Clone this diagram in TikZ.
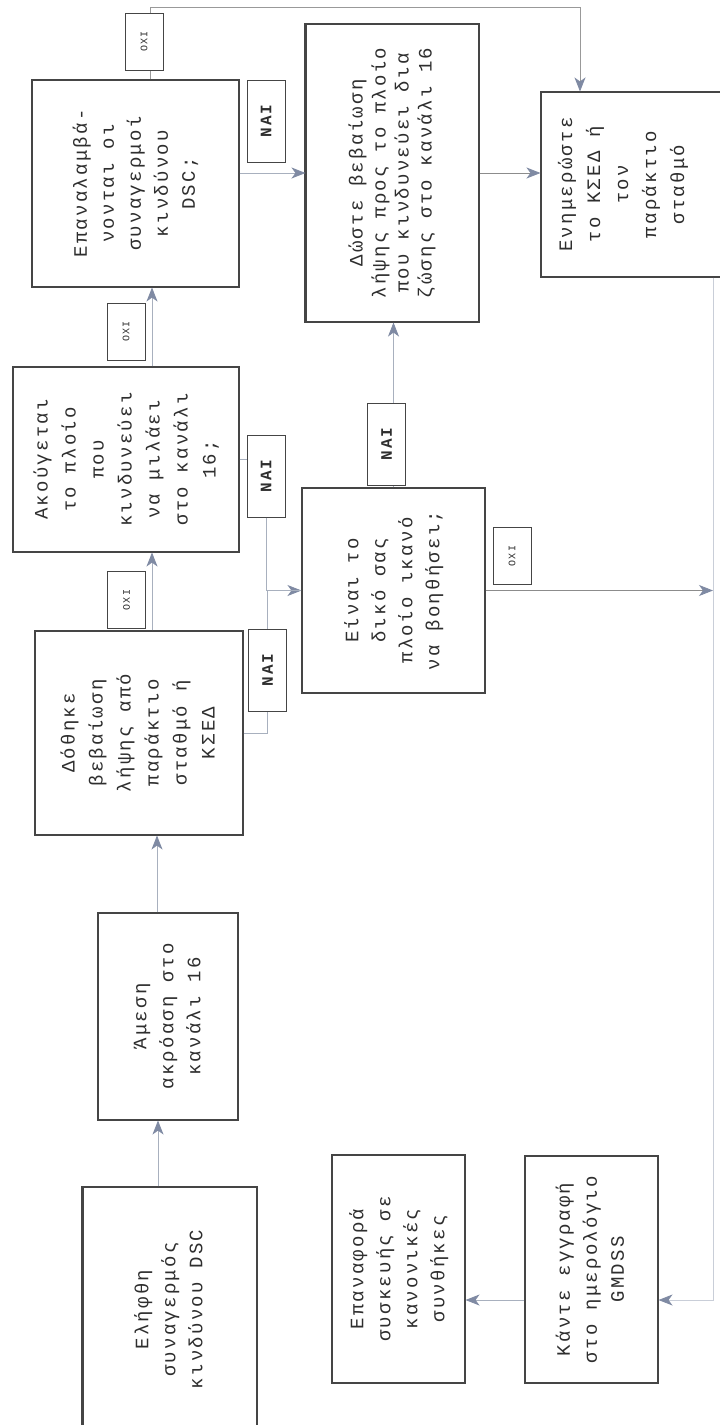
\documentclass[tikz,border=0pt]{standalone}
\usepackage{fontspec}
\usepackage{graphicx}
\usetikzlibrary{arrows.meta}
\newfontfamily\monof[LetterSpace=12]{Liberation Mono}
\definecolor{boxc}{HTML}{454545}
\definecolor{linec}{HTML}{A8B0BE}
\definecolor{lightline}{HTML}{C9CED8}
\definecolor{tipc}{HTML}{7F8AA3}
\definecolor{txtc}{HTML}{2E2E2E}
\newcommand{\vtxt}[2][27]{\rotatebox{90}{\fontsize{19}{#1}\selectfont\begin{tabular}{@{}c@{}}#2\end{tabular}}}
\tikzset{
  box/.style={draw=boxc, line width=1.1pt, fill=white, inner sep=0pt, text=txtc, font=\monof},
  naibox/.style={draw=boxc, line width=1pt, fill=white, inner sep=0pt, text=txtc,
    minimum width=38pt, minimum height=82pt, font=\monof\bfseries},
  oxibox/.style={draw=boxc, line width=0.9pt, fill=white, inner sep=0pt, text=txtc,
    minimum width=38pt, minimum height=57pt, font=\monof},
  conn/.style={draw=linec, line width=0.8pt, -{Stealth[length=14pt,width=11pt,inset=4pt,color=tipc]}},
  plain/.style={draw=linec, line width=0.8pt}
}
\begin{document}
\begin{tikzpicture}[x=1pt,y=-1pt]
\useasboundingbox (0,0) rectangle (720,1425);
\clip (0,0) rectangle (720,1425);
\fill[white] (0,0) rectangle (720,1425);

% boxes
\node[box, minimum width=174pt, minimum height=245pt] (elif) at (170,1309.5)
  {\vtxt{Ελήφθη\\συναγερμός\\κινδύνου DSC}};
\node[box, minimum width=140pt, minimum height=207pt] (amesi) at (168,1016.5)
  {\vtxt{Άμεση\\ακρόαση στο\\κανάλι 16}};
\node[box, minimum width=208pt, minimum height=204pt] (dothike) at (139,733)
  {\vtxt[28]{Δόθηκε\\βεβαίωση\\λήψης από\\παράκτιο\\σταθμό ή\\ΚΣΕΔ}};
\node[box, minimum width=226pt, minimum height=185pt] (akoug) at (126,459.5)
  {\vtxt[28]{Ακούγεται\\το πλοίο\\που\\κινδυνεύει\\να μιλάει\\στο κανάλι\\16;}};
\node[box, minimum width=207pt, minimum height=207pt] (epan) at (135.5,183.5)
  {\vtxt{Επαναλαμβά-\\νονται οι\\συναγερμοί\\κινδύνου\\DSC;}};
\node[box, minimum width=173pt, minimum height=298pt] (dwste) at (392.5,173)
  {\vtxt[23]{Δώστε βεβαίωση\\λήψης προς το πλοίο\\που κινδυνεύει δια\\ζώσης στο κανάλι 16}};
\node[box, minimum width=189pt, minimum height=185pt] (enim) at (635.5,184.5)
  {\vtxt[28]{Ενημερώστε\\το ΚΣΕΔ ή\\τον\\παράκτιο\\σταθμό}\hspace*{26pt}};
\node[box, minimum width=183pt, minimum height=205pt] (einai) at (393.5,590.5)
  {\vtxt{Είναι το\\δικό σας\\πλοίο ικανό\\να βοηθήσει;}};
\node[box, minimum width=133pt, minimum height=227pt] (kante) at (591.5,1269.5)
  {\vtxt{Κάντε εγγραφή\\στο ημερολόγιο\\GMDSS}};
\node[box, minimum width=133pt, minimum height=228pt] (epanaf) at (398.5,1269)
  {\vtxt{Επαναφορά\\συσκευής σε\\κανονικές\\συνθήκες}};

% heavier left edges as in the scan
\draw[boxc, line width=2pt] (elif.north west) -- (elif.south west);
\draw[boxc, line width=2pt] (dwste.north west) -- (dwste.south west);

% helper coordinates
\coordinate (topL) at (150,7);
\coordinate (topR) at (580,7);
\coordinate (rb) at (713,1300);

% connectors
\draw[conn] ([xshift=-12pt]elif.north) -- ([xshift=-12pt]elif.north |- amesi.south);
\draw[conn] ([xshift=-11pt]amesi.north) -- ([xshift=-11pt]amesi.north |- dothike.south);
\draw[conn] ([xshift=13pt]dothike.north) -- ([xshift=13pt]dothike.north |- akoug.south);
\draw[conn] ([xshift=26pt]akoug.north) -- ([xshift=26pt]akoug.north |- epan.south);
\draw[conn, draw=gray!80] (epan.north -| topL) -- (topL) -- (topR) -- (topR |- enim.north);
\draw[conn] (epan.east |- dwste.west) -- (dwste.west);
\draw[conn] (einai.north) -- (einai.north |- dwste.south);
\draw[conn, draw=gray!90] (dwste.east) -- (dwste.east -| enim.west);
\draw[conn, draw=gray!90] (einai.east) -- (einai.east -| rb);
\draw[conn, draw=lightline] (enim.south -| rb) -- (rb) -- (rb -| kante.east);
\draw[conn] (kante.west |- rb) -- (epanaf.east |- rb);

% labels
\node[oxibox] (oxi1) at (144,41.5) {\rotatebox{90}{\fontsize{10}{10}\selectfont ΟΧΙ}};
\node[oxibox] (oxi2) at (126,331.5) {\rotatebox{90}{\fontsize{10}{10}\selectfont ΟΧΙ}};
\node[oxibox] (oxi3) at (126.5,600) {\rotatebox{90}{\fontsize{10}{10}\selectfont ΟΧΙ}};
\node[oxibox] (oxi4) at (512,556) {\rotatebox{90}{\fontsize{10}{10}\selectfont ΟΧΙ}};
\node[naibox] (nai1) at (266,121) {\rotatebox{90}{\fontsize{16}{16}\selectfont ΝΑΙ}};
\node[naibox] (nai2) at (266,476) {\rotatebox{90}{\fontsize{16}{16}\selectfont ΝΑΙ}};
\node[naibox] (nai3) at (267.5,670) {\rotatebox{90}{\fontsize{16}{16}\selectfont ΝΑΙ}};
\node[naibox] (nai4) at (386.5,444) {\rotatebox{90}{\fontsize{16}{16}\selectfont ΝΑΙ}};

% ΝΑΙ branches into "Είναι"
\draw[plain] (akoug.east) -- (akoug.east -| nai2.west);
\draw[conn] (nai2.south) |- (einai.west);
\draw[plain] (dothike.east) -| (nai3.south);
\draw[plain] (nai3.north) |- (einai.west);
\end{tikzpicture}
\end{document}
